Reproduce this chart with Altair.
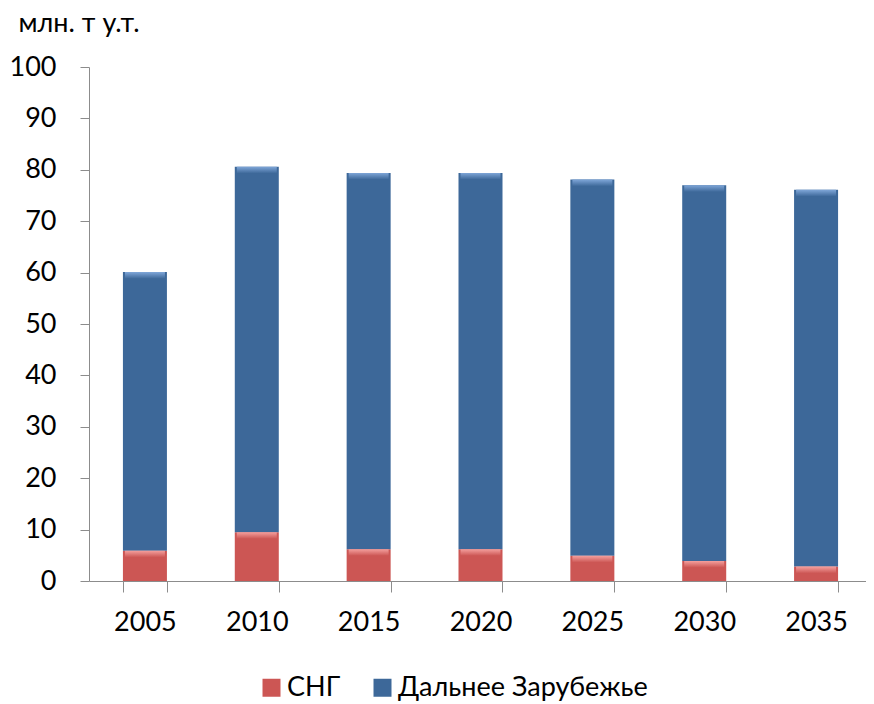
import altair as alt
import pandas as pd

years = ["2005", "2010", "2015", "2020", "2025", "2030", "2035"]
cis = [5.9, 9.5, 6.2, 6.2, 4.9, 3.9, 2.8]
far_abroad = [54.2, 71.1, 73.2, 73.2, 73.2, 73.1, 73.3]
series = ["СНГ", "Дальнее Зарубежье"]
colors = ["#CC5654", "#3D6899"]
highlights = ["#F4A09E", "#7FA6D8"]

rows = []
for y, a, b in zip(years, cis, far_abroad):
    rows.append({"year": y, "series": series[0], "value": a, "ord": 0})
    rows.append({"year": y, "series": series[1], "value": b, "ord": 1})
df = pd.DataFrame(rows)

FONT = "Lato"
FS = 27
XSCALE = alt.Scale(paddingInner=0.607, paddingOuter=0.3035, range=[0, 783])

xenc = alt.X("year:N", sort=years, title=None, scale=XSCALE,
             axis=alt.Axis(labelAngle=0, tickBand="extent", tickSize=11, labelPadding=17,
                           domainColor="#8c8c8c", tickColor="#8c8c8c", labelFontSize=FS,
                           labelFont=FONT, labelColor="#000"))

base = alt.Chart(df).transform_stack(
    stack="value", groupby=["year"], as_=["y0", "y1"], sort=[alt.SortField("ord")]
)

bars = base.mark_bar(size=44).encode(
    x=xenc,
    y=alt.Y("y0:Q", title="млн. т у.т.",
            scale=alt.Scale(domain=[0, 100], nice=False),
            axis=alt.Axis(values=list(range(0, 101, 10)), grid=False, tickSize=9, labelPadding=24,
                          domainColor="#8c8c8c", tickColor="#8c8c8c", labelFontSize=FS,
                          labelFont=FONT, labelColor="#000",
                          titleAngle=0, titleX=-71, titleY=-36, titleAlign="left",
                          titleBaseline="alphabetic", titleFont=FONT, titleFontSize=FS,
                          titleFontWeight="normal", titleColor="#000")),
    y2="y1:Q",
    color=alt.Color("series:N", scale=alt.Scale(domain=series, range=colors),
                    legend=alt.Legend(title=None, orient="none", direction="horizontal",
                                      legendX=169, legendY=607, padding=0, symbolType="square",
                                      symbolSize=324, symbolStrokeWidth=0, labelFontSize=FS,
                                      labelFont=FONT, labelColor="#000", columnPadding=28,
                                      labelOffset=2, labelLimit=500)),
)

layers = [bars]
for s, base_col, hi in zip(series, colors, highlights):
    grad = alt.LinearGradient(gradient="linear", x1=0, x2=0, y1=0, y2=1,
                              stops=[alt.GradientStop(color=hi, offset=0),
                                     alt.GradientStop(color=base_col, offset=1)])
    hl = base.transform_filter(alt.datum.series == s).transform_calculate(
        ytop="datum.y1", ybot="datum.y1 - 1.3"
    ).mark_bar(size=40, color=grad).encode(
        x=alt.X("year:N", sort=years, scale=XSCALE),
        y=alt.Y("ybot:Q"),
        y2="ytop:Q",
    )
    layers.append(hl)

chart = alt.layer(*layers).properties(
    width=777, height=514,
    autosize=alt.AutoSizeParams(type="none"),
    padding={"left": 81, "top": 59, "right": 0, "bottom": 122},
).configure_view(stroke=None)

chart.save("out.html", embed_options={"renderer": "svg", "actions": False})
